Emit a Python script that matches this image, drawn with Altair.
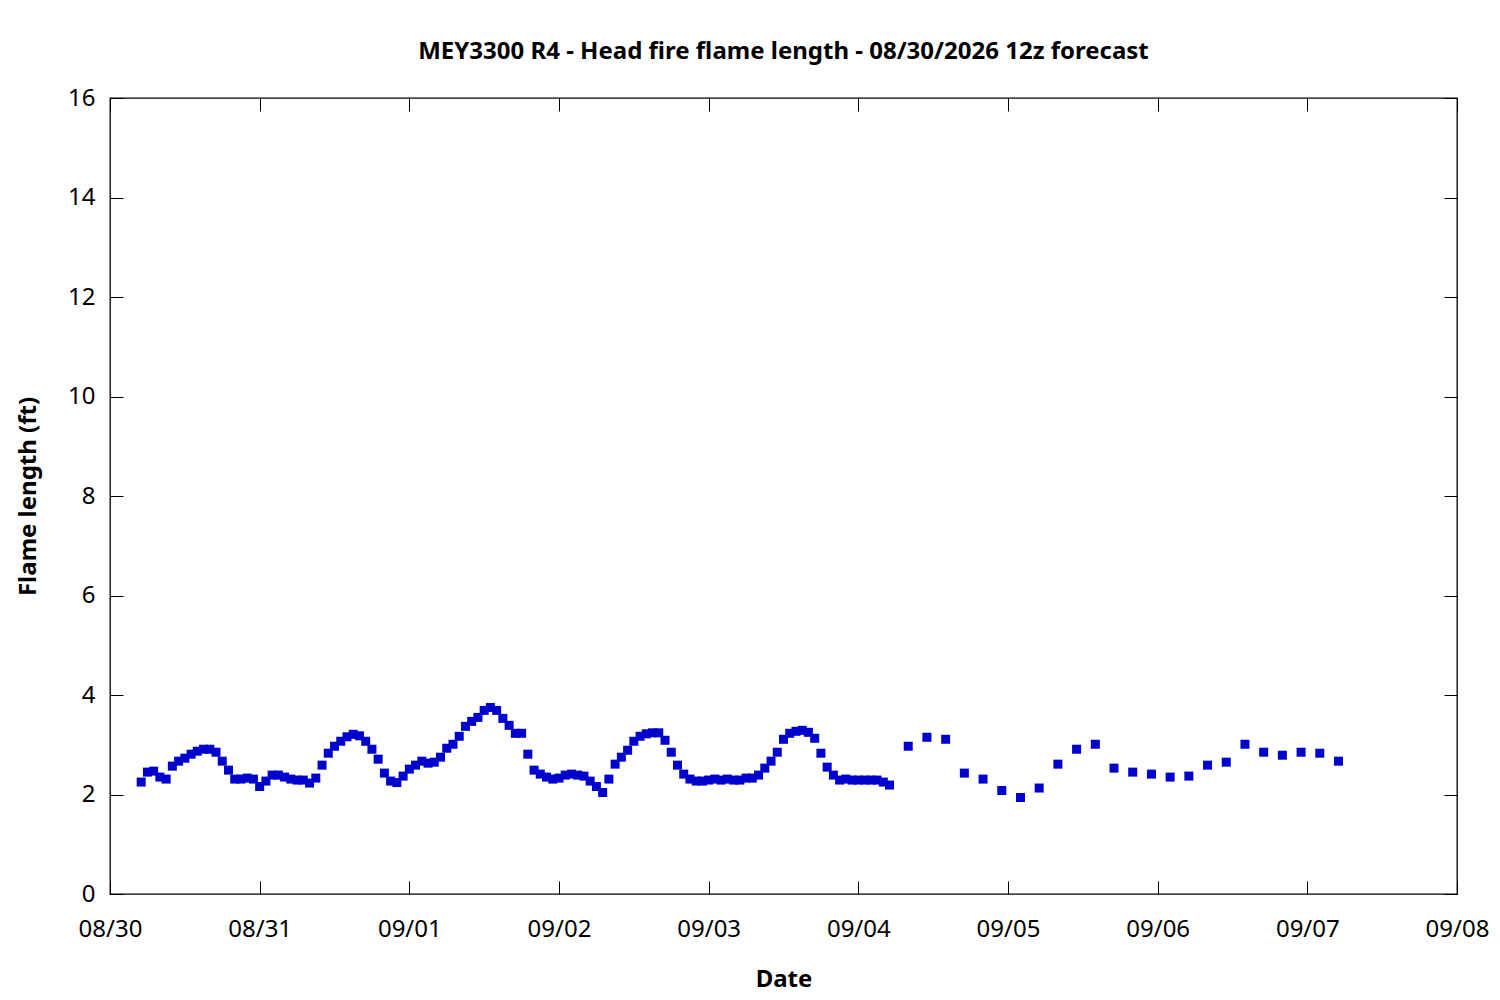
import altair as alt
import pandas as pd

# ---- data ----
hourly_start = "2026-08-30 05:00"
hourly_flame = [
    2.25, 2.45, 2.47, 2.35, 2.31, 2.57, 2.67, 2.73, 2.81, 2.87, 2.91, 2.91, 2.85, 2.67, 2.49, 2.31,
    2.31, 2.33, 2.31, 2.16, 2.27, 2.39, 2.39, 2.35, 2.31, 2.29, 2.29, 2.23, 2.33, 2.59, 2.83,
    2.97, 3.07, 3.16, 3.21, 3.18, 3.07, 2.91, 2.71, 2.43, 2.27, 2.24, 2.37, 2.51, 2.59, 2.67,
    2.63, 2.65, 2.75, 2.93, 3.01, 3.17, 3.37, 3.47, 3.55, 3.69, 3.75, 3.69, 3.53, 3.39, 3.23,
    3.23, 2.81, 2.49, 2.41, 2.35, 2.31, 2.33, 2.39, 2.41, 2.39, 2.37, 2.27, 2.16, 2.04, 2.31,
    2.61, 2.75, 2.89, 3.07, 3.17, 3.22, 3.24, 3.24, 3.09, 2.85, 2.59, 2.41, 2.31, 2.27, 2.27, 2.29,
    2.31, 2.29, 2.31, 2.29, 2.29, 2.33, 2.33, 2.39, 2.53, 2.67, 2.85, 3.11, 3.23, 3.27, 3.29,
    3.25, 3.13, 2.83, 2.55, 2.39, 2.29, 2.31, 2.29, 2.29, 2.29, 2.29, 2.29, 2.25, 2.19,
]
threehourly_start = "2026-09-04 08:00"
threehourly_flame = [
    2.97, 3.15, 3.11, 2.43, 2.31, 2.08, 1.94, 2.13, 2.61, 2.91, 3.01, 2.53,
    2.45, 2.41, 2.35, 2.37, 2.59, 2.65, 3.01, 2.85, 2.79, 2.85, 2.83, 2.67,
]
x_tick_days = [(8, 30), (8, 31), (9, 1), (9, 2), (9, 3), (9, 4), (9, 5), (9, 6), (9, 7), (9, 8)]
y_ticks = [0, 2, 4, 6, 8, 10, 12, 14, 16]
title_text = "MEY3300 R4 - Head fire flame length - 08/30/2026 12z forecast"

t1 = pd.date_range(hourly_start, periods=len(hourly_flame), freq="h")
t2 = pd.date_range(threehourly_start, periods=len(threehourly_flame), freq="3h")
times = [t.strftime("%Y-%m-%dT%H:%M:%SZ") for t in list(t1) + list(t2)]
df = pd.DataFrame({"time": times, "flame": hourly_flame + threehourly_flame})

x_vals = [alt.DateTime(year=2026, month=m, date=d, utc=True) for m, d in x_tick_days]
x_scale = alt.Scale(type="utc", domain=[x_vals[0], x_vals[-1]], nice=False)
y_scale = alt.Scale(domain=[0, 16], nice=False, zero=False)

FONT = "Noto Sans"
FS = 24
TICK = 13

bottom_axis = alt.Axis(
    orient="bottom", values=x_vals, labelExpr="utcFormat(datum.value, '%m/%d')",
    offset=-TICK, tickSize=TICK, domain=False, grid=False,
    labelPadding=23, labelFlush=False, labelOverlap=False, labelBound=False,
    labelFontSize=FS, labelFont=FONT, labelColor="black",
    title="Date", titleFontSize=FS, titleFont=FONT, titleFontWeight="bold",
    titleColor="black", titlePadding=26, tickColor="black", tickWidth=1,
)
left_axis = alt.Axis(
    orient="left", values=y_ticks, offset=-TICK, tickSize=TICK, domain=False, grid=False,
    labelPadding=15, labelFontSize=FS, labelFont=FONT, labelColor="black",
    title="Flame length (ft)", titleFontSize=FS, titleFont=FONT, titleFontWeight="bold",
    titleColor="black", titlePadding=27, tickColor="black", tickWidth=1,
)
top_axis = alt.Axis(
    orient="top", values=x_vals, offset=-TICK, tickSize=TICK, domain=False, grid=False,
    labels=False, title=None, tickColor="black", tickWidth=1,
)
right_axis = alt.Axis(
    orient="right", values=y_ticks, offset=-TICK, tickSize=TICK, domain=False, grid=False,
    labels=False, title=None, tickColor="black", tickWidth=1,
)

points = alt.Chart(df).mark_square(size=81, color="#0000cc", opacity=1).encode(
    x=alt.X("time:T", scale=x_scale, axis=bottom_axis),
    y=alt.Y("flame:Q", scale=y_scale, axis=left_axis),
)
mirror = alt.Chart(df).mark_square(size=1, opacity=0).encode(
    x=alt.X("time:T", scale=x_scale, axis=top_axis),
    y=alt.Y("flame:Q", scale=y_scale, axis=right_axis),
)

chart = (
    alt.layer(points, mirror)
    .resolve_axis(x="independent", y="independent")
    .properties(
        width=1347,
        height=796,
        title=alt.TitleParams(
            title_text, fontSize=FS, font=FONT, fontWeight="bold", color="black",
            anchor="middle", baseline="bottom", offset=1, dy=3,
        ),
        autosize=alt.AutoSizeParams(type="none"),
        padding={"left": 102, "top": 90, "right": 35, "bottom": 98},
    )
    .configure(background="white")
    .configure_view(stroke="black", strokeWidth=1.3)
)

chart.save("out.html", embed_options={"renderer": "svg", "actions": False})
